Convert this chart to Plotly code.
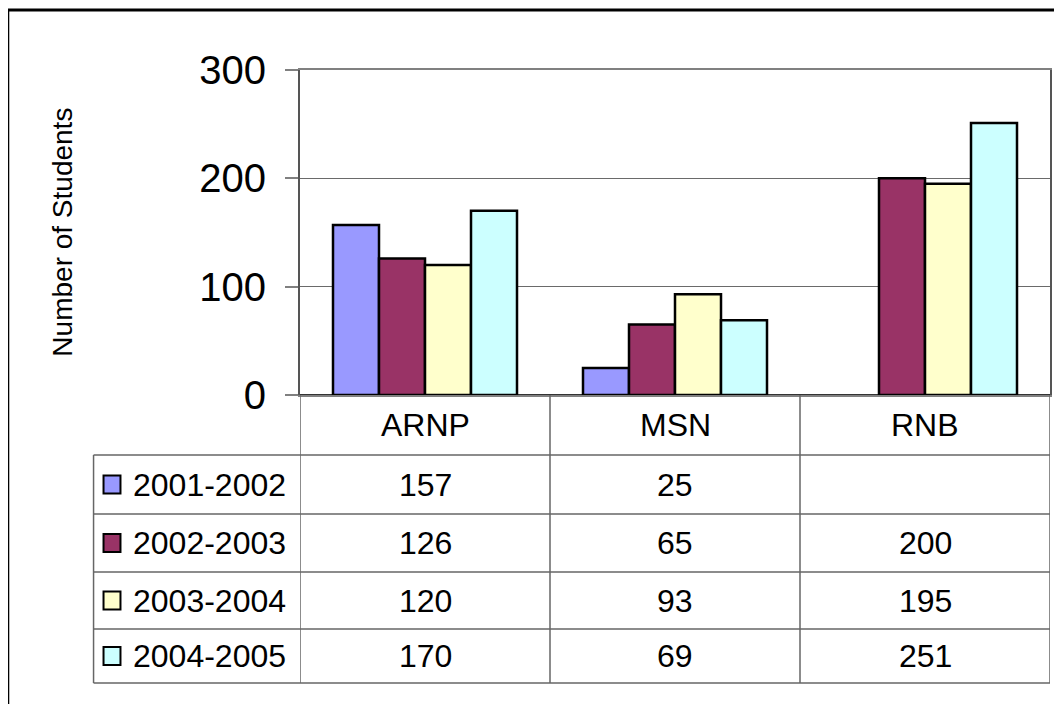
import plotly.graph_objects as go

categories = ["ARNP", "MSN", "RNB"]
series_names = ["2001-2002", "2002-2003", "2003-2004", "2004-2005"]
v_2001_2002 = [157, 25, None]
v_2002_2003 = [126, 65, 200]
v_2003_2004 = [120, 93, 195]
v_2004_2005 = [170, 69, 251]
series_values = [v_2001_2002, v_2002_2003, v_2003_2004, v_2004_2005]
colors = ["#9999FF", "#993366", "#FFFFCC", "#CCFFFF"]
y_ticks = [0, 100, 200, 300]

OFF = 8  # page body margin in the browser
W, H = 1062 - OFF, 704 - OFF
# plot area in screenshot pixels
SL, SR, ST, SB = 300, 1052, 70, 395
L, R, T, B = SL - OFF, SR - OFF, ST - OFF, SB - OFF


def px(x):
    return (x - SL) / (SR - SL)


def py(y):
    return (SB - y) / (SB - ST)


FONT = "Liberation Sans, Arial, sans-serif"

fig = go.Figure()
for name, vals, c in zip(series_names, series_values, colors):
    fig.add_trace(go.Bar(
        x=categories, y=vals, name=name,
        marker=dict(color=c, line=dict(color="black", width=2.5)),
        showlegend=False,
    ))

shapes = []
annotations = []
line_col = "#666666"

# outer border
shapes.append(dict(type="rect", xref="paper", yref="paper",
                   x0=px(7), x1=px(1080), y0=py(730), y1=py(10),
                   line=dict(color="black", width=3), fillcolor="rgba(0,0,0,0)", layer="below"))

header_bottom = 455
row_edges = [455, 514, 572, 629, 683]
table_left = 93

for yy in row_edges:
    shapes.append(dict(type="line", xref="paper", yref="paper",
                       x0=px(table_left), x1=px(SR), y0=py(yy), y1=py(yy),
                       line=dict(color=line_col, width=1.5)))
shapes.append(dict(type="line", xref="paper", yref="paper",
                   x0=px(table_left), x1=px(table_left), y0=py(row_edges[0]), y1=py(row_edges[-1]),
                   line=dict(color=line_col, width=1.5)))
for i in range(len(categories) + 1):
    shapes.append(dict(type="line", xref="x", yref="paper",
                       x0=i - 0.5, x1=i - 0.5, y0=py(SB), y1=py(row_edges[-1]),
                       line=dict(color=line_col, width=1.5)))

for i, cat in enumerate(categories):
    annotations.append(dict(x=i, y=py((SB + header_bottom) / 2), xref="x", yref="paper",
                            xanchor="center", yanchor="middle",
                            text=cat, showarrow=False,
                            font=dict(size=32, color="black", family=FONT)))

for r, (name, vals, c) in enumerate(zip(series_names, series_values, colors)):
    ymid = (row_edges[r] + row_edges[r + 1]) / 2
    shapes.append(dict(type="rect", xref="paper", yref="paper",
                       x0=px(103), x1=px(120), y0=py(ymid + 9), y1=py(ymid - 9),
                       fillcolor=c, line=dict(color="black", width=2)))
    annotations.append(dict(x=px(131), y=py(ymid), xref="paper", yref="paper",
                            xanchor="left", yanchor="middle", text=name, showarrow=False,
                            font=dict(size=32, color="black", family=FONT)))
    for i, v in enumerate(vals):
        if v is None:
            continue
        annotations.append(dict(x=i, y=py(ymid), xref="x", yref="paper",
                                xanchor="center", yanchor="middle",
                                text=str(v), showarrow=False,
                                font=dict(size=32, color="black", family=FONT)))

annotations.append(dict(x=px(61), y=py(232), xref="paper", yref="paper",
                        xanchor="center", yanchor="middle",
                        text="Number of Students", textangle=-90, showarrow=False,
                        font=dict(size=28, color="black", family=FONT)))

fig.update_layout(
    width=W, height=H,
    margin=dict(l=L, r=W - R, t=T, b=H - B, pad=0),
    paper_bgcolor="white", plot_bgcolor="white",
    barmode="group", bargap=0.264, bargroupgap=0,
    font=dict(family=FONT, color="black"),
    xaxis=dict(range=[-0.5, 2.5], showticklabels=False, ticks="",
               showline=True, linecolor="#808080", linewidth=2, mirror=True,
               showgrid=False, zeroline=False, fixedrange=True),
    yaxis=dict(range=[0, 300], tickvals=y_ticks, ticks="outside", ticklen=13,
               tickcolor="#808080", tickwidth=2,
               tickfont=dict(size=40, color="black", family=FONT),
               ticklabelstandoff=11,
               showline=True, linecolor="#555555", linewidth=2, mirror=True,
               showgrid=True, gridcolor="#6a6a6a", gridwidth=1,
               zeroline=True, zerolinecolor="#333333", zerolinewidth=2),
    shapes=shapes, annotations=annotations,
)

fig.write_html("out.html")
